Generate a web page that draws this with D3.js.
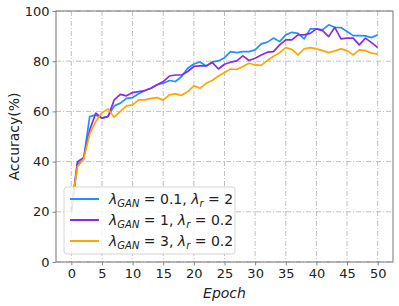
<!DOCTYPE html>
<html><head><meta charset="utf-8">
<script src="https://cdn.jsdelivr.net/npm/d3@7"></script>
<style>
body{margin:0;background:#fff;}
text{font-family:"DejaVu Sans",sans-serif;fill:#222;}
</style></head><body>
<svg id="c" width="399" height="306"></svg>
<script>
const epochs = d3.range(0, 51);
const blueVals = [20,39,41,57.9,58.6,57.3,58,62.2,63.3,65.2,65.5,67,68.3,69.2,70.6,71.2,72.3,71.9,73.9,77.2,78.9,79.7,78.1,79.7,80.1,81.4,83.8,83.4,83.8,83.8,84.5,86.9,87.6,89.2,87.8,90.5,91.5,91.1,88.9,92.9,92.9,92.5,94.5,93.5,93.4,91.8,90.2,90.2,90.1,89.4,90.5];
const purpleVals = [21,40,41.5,52.6,59.3,57.3,58,64.6,66.8,66.2,67.5,67.9,68.3,69.2,70.6,71.9,74.1,74.5,74.5,75.9,77.9,78.1,78.1,79.5,76.9,78.8,79.6,80.1,82.1,80.3,81.2,82.5,83.6,83.8,86.5,88.5,88.5,90.5,90.5,91.1,92.9,92.2,89.8,93.5,88.9,89.2,89.2,86.5,89.2,87.4,85.4];
const orangeVals = [22,38,41,51,56,59.5,61,57.7,60,62.2,62.6,64.6,64.6,65.2,65.5,64.5,66.6,67,66.4,67.9,70.2,69.2,71.2,72.3,74.1,75.5,76.9,76.7,77.9,79.2,78.5,78.3,80.3,82,83.4,85.4,84.7,82.5,84.9,85.4,84.9,84.2,83.4,84.1,84.9,84.2,82.5,84.5,84.2,83.2,82.8];
const xTicks = [0,5,10,15,20,25,30,35,40,45,50];
const yTicks = [0,20,40,60,80,100];
const legendLabels = [
  {lam1:"0.1", lam2:"2"},
  {lam1:"1", lam2:"0.2"},
  {lam1:"3", lam2:"0.2"}
];
const colors = ["#1E90FF","#8A2BE2","#FFA500"];
const allVals = [blueVals, purpleVals, orangeVals];

const svg = d3.select("#c");
const L=56, R=393, T=11, B=262;
const x = d3.scaleLinear().domain([-2.5,52.5]).range([L,R]);
const y = d3.scaleLinear().domain([0,100]).range([B,T]);

// grid
const g = svg.append("g");
g.selectAll(".vg").data(xTicks).enter().append("line")
  .attr("x1",d=>x(d)).attr("x2",d=>x(d)).attr("y1",T).attr("y2",B)
  .attr("stroke","#b0b0b0").attr("stroke-width",0.8).attr("stroke-dasharray","5,2,1,2");
g.selectAll(".hg").data(yTicks).enter().append("line")
  .attr("x1",L).attr("x2",R).attr("y1",d=>y(d)).attr("y2",d=>y(d))
  .attr("stroke","#b0b0b0").attr("stroke-width",0.8).attr("stroke-dasharray","5,2,1,2");

// lines
const line = d3.line().x((d,i)=>x(epochs[i])).y(d=>y(d));
allVals.forEach((vals,k)=>{
  svg.append("path").datum(vals).attr("d",line).attr("fill","none")
    .attr("stroke",colors[k]).attr("stroke-width",1.7).attr("stroke-linejoin","round");
});

// axes
const xAxis = d3.axisBottom(x).tickValues(xTicks).tickSize(3.5).tickPadding(3);
const yAxis = d3.axisLeft(y).tickValues(yTicks).tickSize(3.5).tickPadding(3);
const gx = svg.append("g").attr("transform",`translate(0,${B})`).call(xAxis);
const gy = svg.append("g").attr("transform",`translate(${L},0)`).call(yAxis);
[gx,gy].forEach(a=>{
  a.select(".domain").remove();
  a.selectAll("line").attr("stroke","#777").attr("stroke-width",0.9);
  a.selectAll("text").style("font-family","DejaVu Sans").style("font-size","13px").attr("fill","#222");
});
// spines
svg.append("rect").attr("x",L).attr("y",T).attr("width",R-L).attr("height",B-T)
  .attr("fill","none").attr("stroke","#777").attr("stroke-width",1);

// labels
svg.append("text").attr("x",(L+R)/2).attr("y",298).attr("text-anchor","middle")
  .style("font-size","14px").style("font-style","italic").text("Epoch");
svg.append("text").attr("transform",`translate(19,${(T+B)/2}) rotate(-90)`).attr("text-anchor","middle")
  .style("font-size","14px").text("Accuracy(%)");

// legend
const lg = svg.append("g");
lg.append("rect").attr("x",64).attr("y",187).attr("width",171).attr("height",67).attr("rx",3)
  .attr("fill","#fff").attr("fill-opacity",0.8).attr("stroke","#d0d0d0").attr("stroke-width",0.9);
legendLabels.forEach((d,i)=>{
  const yy = 199 + i*21;
  lg.append("line").attr("x1",70).attr("x2",99).attr("y1",yy).attr("y2",yy)
    .attr("stroke",colors[i]).attr("stroke-width",2);
  const t = lg.append("text").attr("x",109).attr("y",yy+4.5).style("font-size","14px");
  t.append("tspan").style("font-style","italic").text("λ");
  t.append("tspan").style("font-style","italic").style("font-size","10px").attr("dy",3).text("GAN");
  t.append("tspan").attr("dy",-3).text(" = " + d.lam1 + ", ");
  t.append("tspan").style("font-style","italic").text("λ");
  t.append("tspan").style("font-style","italic").style("font-size","10px").attr("dy",3).text("r");
  t.append("tspan").attr("dy",-3).text(" = " + d.lam2);
});
</script></body></html>
